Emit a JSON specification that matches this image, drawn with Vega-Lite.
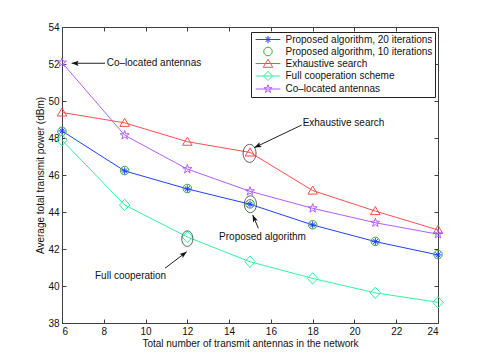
{
  "$schema": "https://vega.github.io/schema/vega-lite/v6.json",
  "width": 376,
  "height": 296,
  "autosize": {"type": "none"},
  "padding": {"left": 62, "top": 27, "right": 47, "bottom": 40},
  "background": "white",
  "datasets": {
    "series": [
      {"series": "Proposed algorithm, 20 iterations", "n": 6, "p": 48.38},
      {"series": "Proposed algorithm, 20 iterations", "n": 9, "p": 46.22},
      {"series": "Proposed algorithm, 20 iterations", "n": 12, "p": 45.25},
      {"series": "Proposed algorithm, 20 iterations", "n": 15, "p": 44.42},
      {"series": "Proposed algorithm, 20 iterations", "n": 18, "p": 43.3},
      {"series": "Proposed algorithm, 20 iterations", "n": 21, "p": 42.4},
      {"series": "Proposed algorithm, 20 iterations", "n": 24, "p": 41.68},
      {"series": "Proposed algorithm, 10 iterations", "n": 6, "p": 48.36},
      {"series": "Proposed algorithm, 10 iterations", "n": 9, "p": 46.24},
      {"series": "Proposed algorithm, 10 iterations", "n": 12, "p": 45.27},
      {"series": "Proposed algorithm, 10 iterations", "n": 15, "p": 44.44},
      {"series": "Proposed algorithm, 10 iterations", "n": 18, "p": 43.31},
      {"series": "Proposed algorithm, 10 iterations", "n": 21, "p": 42.41},
      {"series": "Proposed algorithm, 10 iterations", "n": 24, "p": 41.7},
      {"series": "Exhaustive search", "n": 6, "p": 49.38},
      {"series": "Exhaustive search", "n": 9, "p": 48.82},
      {"series": "Exhaustive search", "n": 12, "p": 47.8},
      {"series": "Exhaustive search", "n": 15, "p": 47.22},
      {"series": "Exhaustive search", "n": 18, "p": 45.16},
      {"series": "Exhaustive search", "n": 21, "p": 44.05},
      {"series": "Exhaustive search", "n": 24, "p": 43.03},
      {"series": "Full cooperation scheme", "n": 6, "p": 47.88},
      {"series": "Full cooperation scheme", "n": 9, "p": 44.38},
      {"series": "Full cooperation scheme", "n": 12, "p": 42.65},
      {"series": "Full cooperation scheme", "n": 15, "p": 41.31},
      {"series": "Full cooperation scheme", "n": 18, "p": 40.41},
      {"series": "Full cooperation scheme", "n": 21, "p": 39.63},
      {"series": "Full cooperation scheme", "n": 24, "p": 39.12},
      {"series": "Co-located antennas", "n": 6, "p": 52.08},
      {"series": "Co-located antennas", "n": 9, "p": 48.15},
      {"series": "Co-located antennas", "n": 12, "p": 46.32},
      {"series": "Co-located antennas", "n": 15, "p": 45.12},
      {"series": "Co-located antennas", "n": 18, "p": 44.2},
      {"series": "Co-located antennas", "n": 21, "p": 43.42},
      {"series": "Co-located antennas", "n": 24, "p": 42.8}
    ],
    "notes": [
      {"id": "co", "text": "Co\u2013located antennas", "n": 8.14, "p": 52.04},
      {"id": "ex", "text": "Exhaustive search", "n": 17.52, "p": 48.8},
      {"id": "pr", "text": "Proposed algorithm", "n": 13.52, "p": 42.65},
      {"id": "fc", "text": "Full cooperation", "n": 7.58, "p": 40.54}
    ],
    "arrows": [
      {"id": "co", "n": 8.06, "p": 52.04, "n2": 6.46, "p2": 52.04},
      {"id": "ex", "n": 17.47, "p": 48.7, "n2": 15.21, "p2": 47.48},
      {"id": "pr", "n": 15.4, "p": 43.12, "n2": 15.13, "p2": 43.84},
      {"id": "fc", "n": 10.93, "p": 40.96, "n2": 11.97, "p2": 41.85}
    ],
    "ellipses": [
      {"id": "ex", "n": 14.98, "p": 47.17},
      {"id": "pr", "n": 15.02, "p": 44.42},
      {"id": "fc", "n": 12.0, "p": 42.56}
    ]
  },
  "layer": [
    {
      "data": {"name": "series"},
      "transform": [{"filter": "datum.series !== 'Proposed algorithm, 10 iterations'"}],
      "mark": {"type": "line", "strokeWidth": 1},
      "encoding": {
        "x": {"field": "n", "type": "quantitative",
              "scale": {"domain": [6, 24], "nice": false, "zero": false},
              "axis": {"orient": "bottom", "values": [6, 8, 10, 12, 14, 16, 18, 20, 22, 24],
                       "title": "Total number of transmit antennas in the network",
                       "tickSize": -4, "labelPadding": 7, "titlePadding": 2, "domain": false}},
        "y": {"field": "p", "type": "quantitative",
              "scale": {"domain": [38, 54], "nice": false, "zero": false},
              "axis": {"orient": "left", "values": [38, 40, 42, 44, 46, 48, 50, 52, 54],
                       "title": "Average total transmit power (dBm)",
                       "tickSize": -4, "labelPadding": 7, "titlePadding": 2, "domain": false}},
        "color": {"field": "series", "type": "nominal",
                  "scale": {"domain": ["Proposed algorithm, 20 iterations", "Proposed algorithm, 10 iterations", "Exhaustive search", "Full cooperation scheme", "Co-located antennas"],
                            "range": ["#2040ff", "#3aaa3a", "#ff4d4d", "#33f0a0", "#b35cff"]},
                  "legend": {
                    "title": null,
                    "orient": "none",
                    "legendX": 189,
                    "legendY": 5,
                    "labelExpr": "datum.label === 'Co-located antennas' ? 'Co\u2013located antennas' : datum.label",
                    "encode": {
                      "symbols": {
                        "update": {
                          "shape": {"signal": "datum.value === 'Proposed algorithm, 20 iterations' ? 'M-2.6,0H2.6M-0.75,0H0.75M0,-0.75V0.75M-0.53,-0.53L0.53,0.53M-0.53,0.53L0.53,-0.53' : datum.value === 'Proposed algorithm, 10 iterations' ? 'M0.9,0A0.9,0.9 0 1,1 -0.9,0A0.9,0.9 0 1,1 0.9,0Z' : datum.value === 'Exhaustive search' ? 'M-2.6,0H2.6M0,-0.9L1,0.8L-1,0.8Z' : datum.value === 'Full cooperation scheme' ? 'M-2.6,0H2.6M0,-0.95L0.95,0L0,0.95L-0.95,0Z' : 'M-2.6,0H2.6M0,-0.9L0.2,-0.28L0.86,-0.28L0.33,0.11L0.53,0.73L0,0.34L-0.53,0.73L-0.33,0.11L-0.86,-0.28L-0.2,-0.28Z'"},
                          "fill": {"value": "transparent"},
                          "strokeWidth": {"value": 1}
                        }
                      }
                    }
                  }}
      }
    },
    {
      "data": {"name": "series"},
      "mark": {"type": "point", "filled": false, "strokeWidth": 1, "size": 90, "opacity": 1},
      "encoding": {
        "x": {"field": "n", "type": "quantitative",
              "axis": {"orient": "top", "values": [6, 8, 10, 12, 14, 16, 18, 20, 22, 24],
                       "labels": false, "title": null, "tickSize": -4, "domain": false}},
        "y": {"field": "p", "type": "quantitative",
              "axis": {"orient": "right", "values": [38, 40, 42, 44, 46, 48, 50, 52, 54],
                       "labels": false, "title": null, "tickSize": -4, "domain": false}},
        "color": {"field": "series", "type": "nominal"},
        "shape": {"field": "series", "type": "nominal", "legend": null,
                  "scale": {"domain": ["Proposed algorithm, 20 iterations", "Proposed algorithm, 10 iterations", "Exhaustive search", "Full cooperation scheme", "Co-located antennas"],
                            "range": [
                              "M-0.75,0H0.75M0,-0.75V0.75M-0.53,-0.53L0.53,0.53M-0.53,0.53L0.53,-0.53",
                              "M0.9,0A0.9,0.9 0 1,1 -0.9,0A0.9,0.9 0 1,1 0.9,0Z",
                              "M0,-0.95L1,0.75L-1,0.75Z",
                              "M0,-1.2L1.1,0L0,1.2L-1.1,0Z",
                              "M0,-1L0.225,-0.309L0.951,-0.309L0.363,0.118L0.588,0.809L0,0.382L-0.588,0.809L-0.363,0.118L-0.951,-0.309L-0.225,-0.309Z"
                            ]}}
      }
    },
    {
      "data": {"name": "ellipses"},
      "mark": {"type": "point", "filled": false, "stroke": "#333333", "strokeWidth": 0.8, "opacity": 1,
               "shape": "M0,-1A0.72,1 0 1,1 0,1A0.72,1 0 1,1 0,-1Z"},
      "encoding": {
        "x": {"field": "n", "type": "quantitative", "axis": null},
        "y": {"field": "p", "type": "quantitative", "axis": null},
        "size": {"field": "id", "type": "nominal", "legend": null,
                 "scale": {"domain": ["ex", "pr", "fc"], "range": [324, 240, 576]}}
      }
    },
    {
      "data": {"name": "arrows"},
      "mark": {"type": "rule", "color": "#222222", "strokeWidth": 1},
      "encoding": {
        "x": {"field": "n", "type": "quantitative", "axis": null},
        "y": {"field": "p", "type": "quantitative", "axis": null},
        "x2": {"field": "n2"},
        "y2": {"field": "p2"}
      }
    },
    {
      "data": {"name": "arrows"},
      "mark": {"type": "point", "filled": true, "color": "#111111", "size": 49, "opacity": 1, "strokeWidth": 0},
      "encoding": {
        "x": {"field": "n2", "type": "quantitative", "axis": null},
        "y": {"field": "p2", "type": "quantitative", "axis": null},
        "shape": {"field": "id", "type": "nominal", "legend": null,
                  "scale": {"domain": ["co", "ex", "pr", "fc"],
                            "range": [
                              "M0,0L2,0.75L1.6,0L2,-0.75Z",
                              "M0,0L2.128,-0.181L1.445,-0.686L1.484,-1.535Z",
                              "M0,0L0.085,2.135L0.621,1.475L1.467,1.553Z",
                              "M0,0L-2.043,0.618L-1.27,0.971L-1.133,1.81Z"
                            ]}}
      }
    },
    {
      "data": {"name": "notes"},
      "mark": {"type": "text", "align": "left", "baseline": "middle", "font": "Liberation Sans", "fontSize": 10, "color": "#111111"},
      "encoding": {
        "x": {"field": "n", "type": "quantitative", "axis": null},
        "y": {"field": "p", "type": "quantitative", "axis": null},
        "text": {"field": "text"}
      }
    }
  ],
  "resolve": {
    "scale": {"shape": "independent", "size": "independent"},
    "axis": {"x": "independent", "y": "independent"}
  },
  "config": {
    "view": {"stroke": "#404040", "strokeWidth": 1},
    "axis": {
      "grid": false,
      "labelFont": "Liberation Sans",
      "titleFont": "Liberation Sans",
      "labelFontSize": 10,
      "titleFontSize": 10,
      "titleFontWeight": "normal",
      "labelColor": "#111111",
      "titleColor": "#111111",
      "tickColor": "#404040",
      "domainColor": "#404040"
    },
    "legend": {
      "labelFont": "Liberation Sans",
      "labelFontSize": 10,
      "labelColor": "#111111",
      "strokeColor": "#222222",
      "fillColor": "white",
      "padding": 2,
      "symbolSize": 90,
      "symbolOffset": 9.5,
      "labelOffset": 12,
      "rowPadding": -1.5,
      "labelLimit": 300
    }
  }
}
